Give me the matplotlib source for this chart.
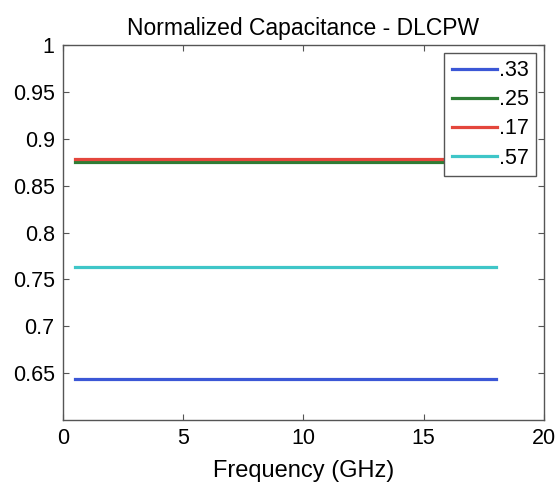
import numpy as np
import matplotlib.pyplot as plt

plt.rcParams['font.family'] = ['Liberation Sans', 'DejaVu Sans']

# frequency sweep end points (GHz) and normalized capacitance per ratio
freq = [0.5, 18]
labels = ['.33', '.25', '.17', '.57']
cap = [0.644, 0.875, 0.878, 0.763]
colors = ['#3b57d6', '#2e7d35', '#e4463c', '#3fc6c8']

fig = plt.figure(figsize=(5.59, 4.82), dpi=100)
ax = fig.add_axes([0.1127, 0.1286, 0.8604, 0.778])

for lab, c, col in zip(labels, cap, colors):
    ax.plot(freq, [c, c], color=col, lw=2.3, label=lab)

ax.set_xlim(0, 20)
ax.set_ylim(0.6, 1)
ax.set_xticks([0, 5, 10, 15, 20])
ax.set_yticks([0.65, 0.7, 0.75, 0.8, 0.85, 0.9, 0.95, 1])
ax.set_yticklabels(['0.65', '0.7', '0.75', '0.8', '0.85', '0.9', '0.95', '1'])
ax.tick_params(direction='in', top=True, right=True, labelsize=15.5,
               length=4, color='#555555', pad=6)
for s in ax.spines.values():
    s.set_color('#555555')
    s.set_linewidth(1.0)

ax.set_xlabel('Frequency (GHz)', fontsize=17, labelpad=8)
ax.set_title('Normalized Capacitance - DLCPW', fontsize=16.5, pad=7)

leg = ax.legend(loc='upper right', fontsize=15.5, handlelength=2.1,
                handletextpad=0.1, borderpad=0.35, labelspacing=0.38,
                fancybox=False, framealpha=1, borderaxespad=0.35)
leg.get_frame().set_edgecolor('#555555')
leg.get_frame().set_linewidth(1.0)

fig.savefig('out.png', dpi=100)
